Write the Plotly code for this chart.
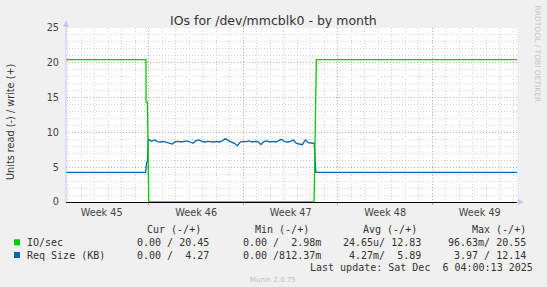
import numpy as np
import plotly.graph_objects as go

# ---------------- data (x in days from left edge of the graph) ----------------
X_END = 33.4
week_lines = [6.14, 13.14, 20.14, 27.14]
week_centers = [2.64, 9.64, 16.64, 23.64, 30.64]
week_labels = ["Week 45", "Week 46", "Week 47", "Week 48", "Week 49"]
day_lines = [0.14 + i for i in range(34)]

green_x = [0, 5.92, 5.93, 6.03, 6.13, 18.37, 18.54, X_END]
green_y = [20.45, 20.45, 14.3, 14.3, 0.0, 0.0, 20.45, 20.45]

blue_head_x = [0, 5.90, 5.97, 6.03, 6.08]
blue_head_y = [4.27, 4.27, 5.7, 5.8, 8.9]
blue_noise = [9.00, 8.72, 8.91, 8.67, 8.62, 8.72, 8.62, 8.48, 8.33, 8.67,
              8.72, 8.62, 8.67, 8.77, 8.62, 8.43, 8.81, 8.91, 8.72, 8.62,
              8.72, 8.67, 8.62, 8.72, 8.62, 8.81, 9.10, 8.81, 8.62, 8.43,
              8.09, 8.62, 8.72, 8.67, 8.77, 8.62, 8.72, 8.67, 8.24, 8.67,
              8.77, 8.62, 8.72, 8.62, 8.81, 9.00, 8.67, 8.62, 8.72, 8.91,
              8.43, 8.29, 8.24, 8.91, 8.52, 8.48, 8.43]
blue_noise_start, blue_noise_end = 6.12, 18.38
blue_tail_x = [18.45, 18.50, X_END]
blue_tail_y = [6.0, 4.27, 4.27]

y_major = [0, 5, 10, 15, 20, 25]

series_names = ["IO/sec", "Req Size (KB)"]
col_headers = ["Cur (-/+)", "Min (-/+)", "Avg (-/+)", "Max (-/+)"]
stats = [["0.00 / 20.45", "0.00 /  2.98m", "24.65u/ 12.83", "96.63m/ 20.55"],
         ["0.00 /  4.27", "0.00 /812.37m", " 4.27m/  5.89", " 3.97 / 12.14"]]
last_update = "Last update: Sat Dec  6 04:00:13 2025"

GREEN = "#00CC00"
BLUE = "#0066B3"

# ---------------- geometry ----------------
W, H = 547, 287
L, R, T, B = 66, 30, 28, 85
PW, PH = W - L - R, H - T - B


def px(x):
    return (x - L) / PW


def py(y):
    return (H - B - y) / PH


blue_x = blue_head_x + list(np.linspace(blue_noise_start, blue_noise_end, len(blue_noise))) + blue_tail_x
blue_y = blue_head_y + blue_noise + blue_tail_y

fig = go.Figure()
fig.add_trace(go.Scatter(x=blue_x, y=blue_y, mode="lines",
                         line=dict(color=BLUE, width=1.3), hoverinfo="skip"))
fig.add_trace(go.Scatter(x=green_x, y=green_y, mode="lines",
                         line=dict(color=GREEN, width=1.3), hoverinfo="skip"))
fig.add_trace(go.Scatter(x=[0, X_END], y=[None, None], xaxis="x2",
                         mode="lines", hoverinfo="skip"))

MONO = "DejaVu Sans Mono"
SANS = "DejaVu Sans"
TXT = "#444444"
RED_GRID = "rgba(225,120,120,0.55)"

fig.update_layout(
    width=W, height=H, margin=dict(l=L, r=R, t=T, b=B, pad=0),
    paper_bgcolor="#F0F0F0", plot_bgcolor="#FFFFFF", showlegend=False,
    xaxis=dict(range=[0, X_END], tickmode="array", tickvals=week_lines,
               showticklabels=False, showgrid=True,
               gridcolor=RED_GRID, griddash="1px,2px", gridwidth=1,
               ticks="outside", ticklen=2, tickcolor="rgba(225,120,120,0.8)",
               zeroline=False, showline=False,
               minor=dict(tickmode="array", tickvals=day_lines, showgrid=True,
                          gridcolor="#D2D2D2", griddash="1px,2px", gridwidth=1)),
    xaxis2=dict(range=[0, X_END], overlaying="x", anchor="y", side="bottom",
                tickmode="array", tickvals=week_centers, ticktext=week_labels,
                showgrid=False, zeroline=False, showline=False, ticks="",
                ticklabelstandoff=3,
                tickfont=dict(family=SANS, size=9.7, color=TXT)),
    yaxis=dict(range=[0, 25], tickmode="array", tickvals=y_major,
               showgrid=True, gridcolor=RED_GRID,
               griddash="1px,2px", gridwidth=1,
               zeroline=True, zerolinecolor="#000000", zerolinewidth=1,
               showline=False, ticks="", ticklabelstandoff=6,
               tickfont=dict(family=SANS, size=9.7, color=TXT),
               minor=dict(dtick=1, tick0=0, showgrid=True,
                          gridcolor="#D2D2D2", griddash="1px,2px", gridwidth=1)),
)

ann = []


def add_text(text, x, y, size, color=TXT, family=MONO, xanchor="left", angle=0):
    ann.append(dict(text=text.replace(" ", "\u00a0"), x=px(x), y=py(y), xref="paper", yref="paper",
                    xanchor=xanchor, yanchor="middle", showarrow=False, textangle=angle,
                    borderpad=0, borderwidth=0,
                    font=dict(family=family, size=size, color=color)))


add_text("IOs for /dev/mmcblk0 - by month", 273.5, 20, 12.5, "#333333", SANS, "center")
add_text("Units read (-) / write (+)", 10, 122, 9.7, "#333333", SANS, "center", -90)
add_text("RRDTOOL / TOBI OETIKER", 537, 53.5, 7.5, "#C4C4C4", SANS, "center", 90)

header_ends = [200.6, 308.8, 417, 526]
value_ends = [209.4, 321, 421, 526]
for h, xe in zip(col_headers, header_ends):
    add_text(h, xe, 229.4, 10, "#333333", MONO, "right")
row_y = [242.3, 255]
for i, name in enumerate(series_names):
    add_text(name, 26.5, row_y[i], 10, "#333333", MONO, "left")
    for s, xe in zip(stats[i], value_ends):
        add_text(s, xe, row_y[i], 10, "#333333", MONO, "right")
add_text(last_update, 533, 267.5, 10, "#333333", MONO, "right")
add_text("Munin 2.0.75", 273, 280, 7, "#C0C0C0", SANS, "center")

fig.update_layout(annotations=ann)

shapes = []
AXC = "#C8C8F2"
# legend swatches
for i, c in enumerate([GREEN, BLUE]):
    shapes.append(dict(type="rect", xref="paper", yref="paper",
                       x0=px(14), x1=px(20), y0=py(row_y[i] + 3), y1=py(row_y[i] - 3),
                       fillcolor=c, line=dict(width=0)))
# y axis line + arrow
shapes.append(dict(type="line", xref="paper", yref="paper", x0=px(66), x1=px(66),
                   y0=py(202), y1=py(25), line=dict(color=AXC, width=1)))
shapes.append(dict(type="path", xref="paper", yref="paper",
                   path=f"M {px(63)} {py(27)} L {px(69)} {py(27)} L {px(66)} {py(20)} Z",
                   fillcolor=AXC, line=dict(width=0)))
# x axis arrow
shapes.append(dict(type="line", xref="paper", yref="paper", x0=px(516.5), x1=px(520),
                   y0=py(202), y1=py(202), line=dict(color=AXC, width=1)))
shapes.append(dict(type="path", xref="paper", yref="paper",
                   path=f"M {px(518)} {py(199)} L {px(518)} {py(205)} L {px(524)} {py(202)} Z",
                   fillcolor=AXC, line=dict(width=0)))
fig.update_layout(shapes=shapes)

fig.write_html("out.html")
